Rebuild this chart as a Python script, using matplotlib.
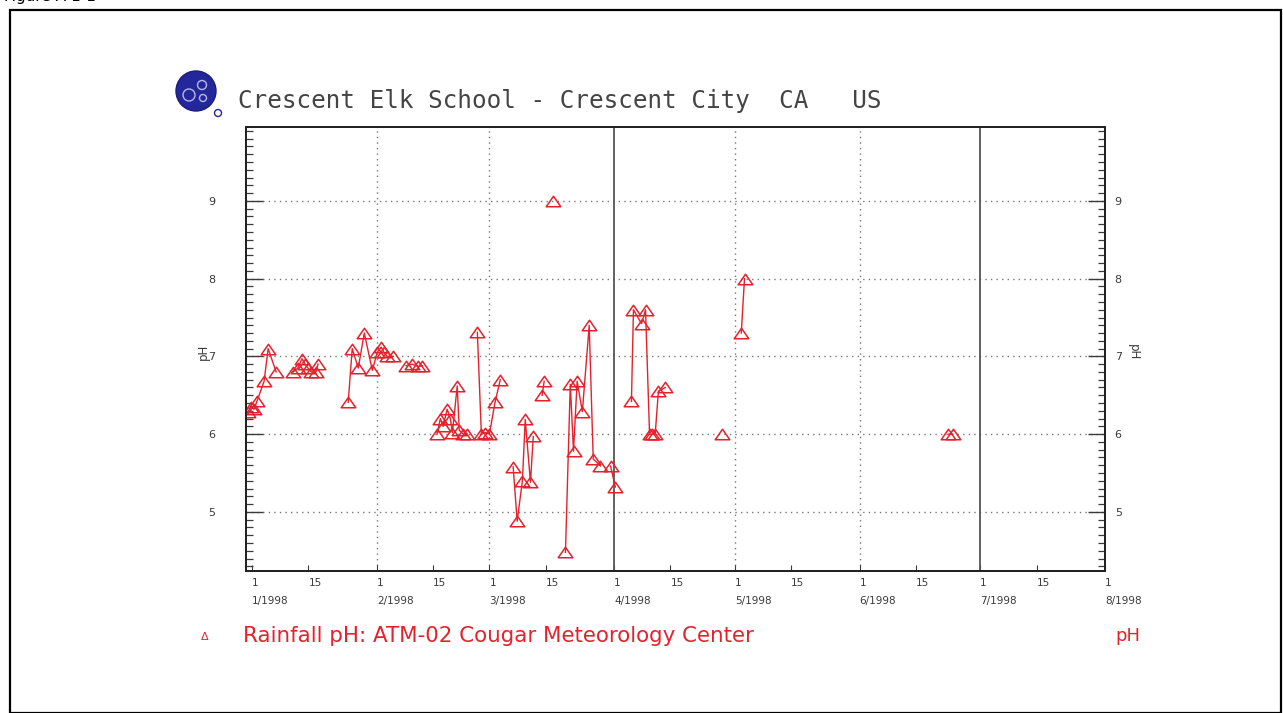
import numpy as np
import pandas as pd
import matplotlib
matplotlib.use("Agg")
import matplotlib.pyplot as plt
import matplotlib.dates as mdates
from matplotlib.patches import Ellipse, Rectangle
from matplotlib.path import Path
from matplotlib.ticker import MultipleLocator

# rainfall samples: days after 1998-01-01 00:00, and measured pH
day_offset = [
    -1.0, -0.3, 0.5, 1.2, 3.0, 4.0, 6.0,
    10.2, 11.4, 12.4, 13.2, 13.9, 14.7, 15.9, 16.4,
    23.9, 24.9, 26.4, 27.9, 29.9, 31.1, 32.1, 32.8, 33.6, 35.1,
    38.3, 39.8, 41.3, 42.3,
    46.0, 46.8, 47.5, 48.5, 49.3, 49.8, 51.0, 51.5, 52.5, 53.5,
    56.0, 57.0, 58.0, 59.0, 60.4, 61.7,
    64.9, 65.9, 67.2, 67.9, 69.2, 69.9, 72.1, 72.6, 74.9,
    77.9, 79.1, 79.9, 80.8, 82.1, 83.8, 84.8, 86.6, 89.1, 90.3,
    94.3, 94.8, 96.8, 97.8, 98.8, 99.5, 100.2, 101.0, 102.7,
    116.9, 121.6, 122.4, 173.1, 174.1,
]
ph = [
    6.29, 6.35, 6.32, 6.42, 6.68, 7.1, 6.8,
    6.8, 6.85, 6.97, 6.9, 6.85, 6.8, 6.8, 6.9,
    6.41, 7.1, 6.85, 7.3, 6.82, 7.05, 7.12, 7.05, 7.0, 7.0,
    6.88, 6.9, 6.87, 6.88,
    6.0, 6.2, 6.1, 6.32, 6.2, 6.02, 6.62, 6.05, 6.0, 6.0,
    7.31, 6.0, 6.02, 6.0, 6.41, 6.7,
    5.58, 4.88, 5.4, 6.19, 5.38, 5.97, 6.5, 6.68, 9.0,
    4.48, 6.64, 5.78, 6.68, 6.29, 7.4, 5.68, 5.59, 5.59, 5.32,
    6.42, 7.6, 7.42, 7.6, 6.0, 6.0, 6.0, 6.55, 6.6,
    6.0, 7.3, 8.0, 6.0, 6.0,
]

ytick_vals = [5, 6, 7, 8, 9]
month_starts = ["1998-01-01", "1998-02-01", "1998-03-01", "1998-04-01",
                "1998-05-01", "1998-06-01", "1998-07-01", "1998-08-01"]
month_labels = ["1/1998", "2/1998", "3/1998", "4/1998",
                "5/1998", "6/1998", "7/1998", "8/1998"]
quarter_starts = ["1998-04-01", "1998-07-01"]

title = "Crescent Elk School - Crescent City  CA   US"
legend_text = "Rainfall pH: ATM-02 Cougar Meteorology Center"

RED = "#e3222c"
INK = "#3a3a3a"

base = pd.Timestamp("1998-01-01")
t = mdates.date2num(base + pd.to_timedelta(day_offset, unit="D"))
y = np.array(ph, dtype=float)

# only join samples that belong to the same storm (no gap longer than ~2 days)
xl, yl = [t[0]], [y[0]]
for i in range(1, len(t)):
    if day_offset[i] - day_offset[i - 1] > 2.05:
        xl.append(np.nan)
        yl.append(np.nan)
    xl.append(t[i])
    yl.append(y[i])

# flat open triangle
tri = Path([(0, 0.72), (-1, -0.72), (1, -0.72), (0, 0.72)],
           [Path.MOVETO, Path.LINETO, Path.LINETO, Path.CLOSEPOLY])

W, H = 1283, 713
fig = plt.figure(figsize=(W / 100, H / 100), dpi=100)
ax = fig.add_axes([246 / W, 1 - 571 / H, 859 / W, 444 / H])

ax.plot(xl, yl, color=RED, lw=1.0, zorder=3)
ax.plot(t, y, linestyle="none", marker=tri, ms=10.5, mfc="none",
        mec=RED, mew=1.1, zorder=4)

x0 = mdates.date2num(pd.Timestamp("1997-12-30 12:00"))
x1 = mdates.date2num(pd.Timestamp(month_starts[-1]))
ax.set_xlim(x0, x1)
ax.set_ylim(4.24, 9.95)

# grid
for v in ytick_vals:
    ax.axhline(v, color="#777777", lw=1.0, ls=(0, (1, 3)), zorder=1)
for m in month_starts[1:-1]:
    xm = mdates.date2num(pd.Timestamp(m))
    if m in quarter_starts:
        ax.axvline(xm, color="#555555", lw=1.3, zorder=2)
    else:
        ax.axvline(xm, color="#777777", lw=1.0, ls=(0, (1, 3)), zorder=1)

# x ticks on the 1st and 15th of every month
xticks, xlabels = [], []
for m, lab in zip(month_starts, month_labels):
    d = pd.Timestamp(m)
    xticks.append(mdates.date2num(d))
    xlabels.append("1\n" + lab)
    if m != month_starts[-1]:
        xticks.append(mdates.date2num(d + pd.Timedelta(days=14)))
        xlabels.append("15")
ax.set_xticks(xticks)
ax.set_xticklabels(xlabels, ha="left", fontsize=7.5, color=INK,
                   linespacing=2.0)
ax.tick_params(axis="x", direction="in", length=4, pad=5, colors=INK)

# left pH scale
ax.set_yticks(ytick_vals)
ax.yaxis.set_minor_locator(MultipleLocator(0.1))
ax.tick_params(axis="y", which="major", direction="in", length=12,
               width=1.0, labelsize=8, labelcolor=INK, color=INK, pad=22)
ax.tick_params(axis="y", which="minor", direction="in", length=5,
               width=0.9, color=INK)

# right pH scale, same limits
ax2 = ax.twinx()
ax2.set_ylim(ax.get_ylim())
ax2.set_yticks(ytick_vals)
ax2.yaxis.set_minor_locator(MultipleLocator(0.1))
ax2.tick_params(axis="y", which="major", direction="in", length=12,
                width=1.0, labelsize=8, labelcolor=INK, color=INK, pad=7)
ax2.tick_params(axis="y", which="minor", direction="in", length=5,
                width=0.9, color=INK)

for a in (ax, ax2):
    for s in a.spines.values():
        s.set_color("#222222")
        s.set_linewidth(1.4)

fig.text(203 / W, 1 - 352 / H, "pH", rotation=90, fontsize=8.5,
         color=INK, ha="center", va="center")
fig.text(1133 / W, 1 - 352 / H, "pH", rotation=270, fontsize=8.5,
         color=INK, ha="center", va="center")

# title and little globe logo
fig.text(238 / W, 1 - 101 / H, title, fontsize=17.5, color="#444444",
         ha="left", va="center", family="DejaVu Sans Mono")
lx, ly = 196, 91
fig.patches.append(Ellipse((lx / W, 1 - ly / H), 40 / W, 40 / H,
                           transform=fig.transFigure,
                           facecolor="#23279a", edgecolor="#1a1d80", lw=1))
for (dx, dy, r) in [(-7, 4, 12), (6, -6, 9), (7, 7, 7)]:
    fig.patches.append(Ellipse(((lx + dx) / W, 1 - (ly + dy) / H),
                               r / W, r / H, transform=fig.transFigure,
                               facecolor="none", edgecolor="#b4bae8", lw=1))
fig.patches.append(Ellipse(((lx + 22) / W, 1 - (ly + 22) / H), 7 / W, 7 / H,
                           transform=fig.transFigure, facecolor="white",
                           edgecolor="#23279a", lw=1))

# legend row
fig.text(205 / W, 1 - 637 / H, "\u0394", fontsize=8, color=RED,
         ha="center", va="center")
fig.text(243 / W, 1 - 636 / H, legend_text, fontsize=15.4, color=RED,
         ha="left", va="center")
fig.text(1128 / W, 1 - 636 / H, "pH", fontsize=13, color=RED,
         ha="center", va="center")

# page frame and caption
fig.patches.append(Rectangle((10 / W, 0), 1271 / W, 1 - 10 / H,
                             transform=fig.transFigure, fill=False,
                             edgecolor="black", lw=1.6))
fig.text(4 / W, 1 + 3 / H, "Figure A-1-1", fontsize=11, color="black",
         ha="left", va="center")

fig.savefig("out.png", dpi=100)
